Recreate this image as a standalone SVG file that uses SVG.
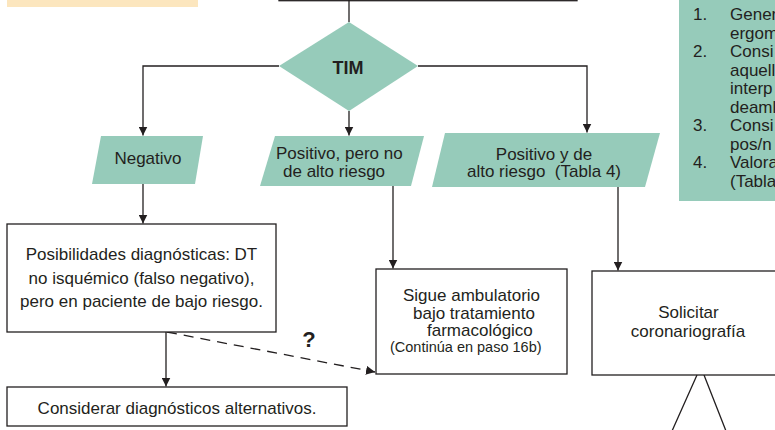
<svg xmlns="http://www.w3.org/2000/svg" width="775" height="430" viewBox="0 0 775 430">
<style>
  .t{font-family:"Liberation Sans",Arial,sans-serif;font-size:17px;fill:#231f20}
  .s{font-size:14.5px}
  .b{font-weight:bold}
  .box{fill:#fff;stroke:#231f20;stroke-width:1.3}
  .teal{fill:#96cbba}
  .ln{fill:none;stroke:#231f20;stroke-width:1.3}
</style>
<defs>
  <marker id="ah" viewBox="0 0 10 10" refX="10" refY="5" markerWidth="9" markerHeight="9" markerUnits="userSpaceOnUse" orient="auto">
    <path d="M0,0 L10,5 L0,10 Z" fill="#231f20"/>
  </marker>
</defs>
<rect width="775" height="430" fill="#fff"/>

<g id="beige">
  <rect x="7" y="-5" width="191" height="12" fill="#fce6be"/>
</g>
<g id="topbox">
  <rect class="box" x="279" y="-50" width="298" height="50.7"/>
</g>
<g id="notes">
  <rect class="teal" x="679" y="-5" width="110" height="206"/>
  <text class="t" x="693" y="20">1.</text><text class="t" x="730" y="20">Gener</text>
  <text class="t" x="730" y="38.5">ergom</text>
  <text class="t" x="693" y="57">2.</text><text class="t" x="730" y="57">Consi</text>
  <text class="t" x="730" y="75.5">aquell</text>
  <text class="t" x="730" y="94">interp</text>
  <text class="t" x="730" y="112.5">deaml</text>
  <text class="t" x="693" y="131">3.</text><text class="t" x="730" y="131">Consi</text>
  <text class="t" x="730" y="149.5">pos/n</text>
  <text class="t" x="693" y="168">4.</text><text class="t" x="730" y="168">Valora</text>
  <text class="t" x="730" y="186.5">(Tabla</text>
</g>

<g id="connectors">
  <path class="ln" d="M349,0 V22"/>
  <path class="ln" d="M279,66 H143 V135.5" marker-end="url(#ah)"/>
  <path class="ln" d="M349,111 V135.5" marker-end="url(#ah)"/>
  <path class="ln" d="M418,66 H587 V132.5" marker-end="url(#ah)"/>
  <path class="ln" d="M143,184 V223.5" marker-end="url(#ah)"/>
  <path class="ln" d="M393,186 V268.5" marker-end="url(#ah)"/>
  <path class="ln" d="M618,187 V270.5" marker-end="url(#ah)"/>
  <path class="ln" d="M166,332 V386.5" marker-end="url(#ah)"/>
  <path class="ln" d="M167,332 L375,372" stroke-dasharray="10,7" marker-end="url(#ah)"/>
  <path class="ln" d="M697,375 L672,431 M704,375 L726,431"/>
  <text class="t b" x="309" y="347" font-size="22" text-anchor="middle" style="font-size:22px">?</text>
</g>

<g id="tim">
  <polygon class="teal" points="349,22 418,66 349,111 279,66"/>
  <text class="t b" x="348" y="74" text-anchor="middle" style="font-size:18px">TIM</text>
</g>
<g id="negativo">
  <polygon class="teal" points="101,136 203,136 195,184 92,184"/>
  <text class="t" x="148" y="164" text-anchor="middle">Negativo</text>
</g>
<g id="positivo-bajo">
  <polygon class="teal" points="275,136 424,136 411,186 260,186"/>
  <text class="t" x="276" y="159">Positivo, pero no</text>
  <text class="t" x="283" y="177">de alto riesgo</text>
</g>
<g id="positivo-alto">
  <polygon class="teal" points="445,133 660,133 645,187 432,187"/>
  <text class="t" x="544" y="160" text-anchor="middle">Positivo y de</text>
  <text class="t" x="544" y="177" text-anchor="middle" xml:space="preserve">alto riesgo  (Tabla 4)</text>
</g>
<g id="posibilidades">
  <rect class="box" x="7" y="224" width="269" height="108"/>
  <text class="t" x="141.5" y="260" text-anchor="middle">Posibilidades diagnósticas: DT</text>
  <text class="t" x="141.5" y="283.5" text-anchor="middle">no isquémico (falso negativo),</text>
  <text class="t" x="141.5" y="307" text-anchor="middle">pero en paciente de bajo riesgo.</text>
</g>
<g id="considerar">
  <rect class="box" x="7" y="387" width="340" height="39"/>
  <text class="t" x="177" y="414" text-anchor="middle">Considerar diagnósticos alternativos.</text>
</g>
<g id="sigue">
  <rect class="box" x="376" y="269" width="191" height="105"/>
  <text class="t" x="403" y="301">Sigue ambulatorio</text>
  <text class="t" x="413" y="319">bajo tratamiento</text>
  <text class="t" x="427" y="336">farmacológico</text>
  <text class="t s" x="390" y="352">(Continúa en paso 16b)</text>
</g>
<g id="solicitar">
  <rect class="box" x="592" y="271" width="200" height="104"/>
  <text class="t" x="688.5" y="318" text-anchor="middle">Solicitar</text>
  <text class="t" x="688" y="337" text-anchor="middle">coronariografía</text>
</g>
</svg>
